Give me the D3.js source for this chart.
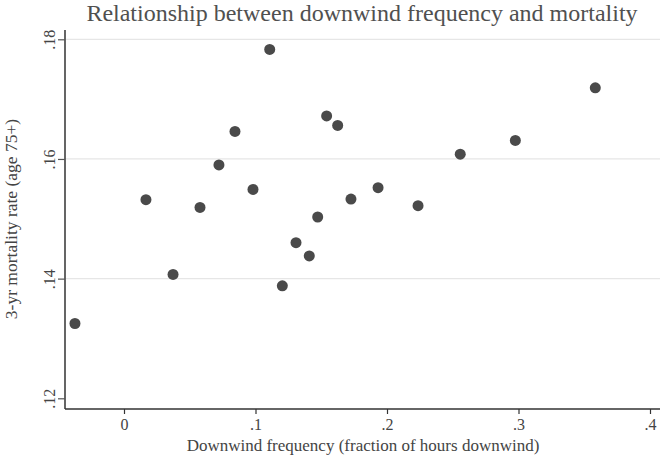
<!DOCTYPE html>
<html>
<head>
<meta charset="utf-8">
<script src="https://cdn.jsdelivr.net/npm/d3@7"></script>
<style>
  body { margin: 0; background: #fff; }
  text { font-family: "Liberation Serif", "DejaVu Serif", serif; fill: #444; }
</style>
</head>
<body>
<div id="chart"></div>
<script>
// downwind frequency (x) vs 3-yr mortality rate (y)
const downwind = [-0.0373, 0.0167, 0.0373, 0.0578, 0.0722, 0.0844, 0.0981, 0.1108, 0.1204, 0.1308,
                  0.1409, 0.1473, 0.1541, 0.1625, 0.1726, 0.1932, 0.2236, 0.2557, 0.2976, 0.3584];
const mortality = [0.1325, 0.1532, 0.1407, 0.1519, 0.1590, 0.1646, 0.1549, 0.1783, 0.1388, 0.1460,
                   0.1438, 0.1503, 0.1672, 0.1656, 0.1533, 0.1552, 0.1522, 0.1608, 0.1631, 0.1719];
const xTicks = [0, 0.1, 0.2, 0.3, 0.4];
const yTicks = [0.12, 0.14, 0.16, 0.18];

const width = 661, height = 459;
const margin = {top: 30, right: 1, bottom: 50, left: 65};

const svg = d3.select("#chart").append("svg")
    .attr("width", width)
    .attr("height", height);

const x = d3.scaleLinear()
    .domain([0, 0.4])
    .range([124, 650]);

const y = d3.scaleLinear()
    .domain([0.12, 0.18])
    .range([398.3, 39.3]);

const fmt = d => d === 0 ? "0" : d3.format(".2~f")(d).replace(/^0/, "");

// gridlines
svg.append("g")
    .selectAll("line")
    .data(yTicks.filter(d => d > 0.12))
    .join("line")
    .attr("x1", margin.left)
    .attr("x2", width - margin.right)
    .attr("y1", d => y(d))
    .attr("y2", d => y(d))
    .attr("stroke", "#e6e6e6")
    .attr("stroke-width", 1.2);

// y axis
const yAxis = svg.append("g")
    .attr("transform", "translate(" + margin.left + ",0)")
    .call(d3.axisLeft(y).tickValues(yTicks).tickSize(7).tickFormat(fmt));
yAxis.select(".domain")
    .attr("d", "M0," + margin.top + "V" + (height - margin.bottom))
    .attr("stroke", "#555").attr("stroke-width", 1.8);
yAxis.selectAll(".tick line").attr("stroke", "#555").attr("stroke-width", 1.2);
yAxis.selectAll(".tick text")
    .attr("x", 0).attr("dy", 0)
    .attr("transform", "translate(-10,0) rotate(-90)")
    .attr("text-anchor", "middle")
    .style("font-size", "16px")
    .style("font-family", "Liberation Serif, serif")
    .attr("fill", "#444");

// x axis
const xAxis = svg.append("g")
    .attr("transform", "translate(0," + (height - margin.bottom) + ")")
    .call(d3.axisBottom(x).tickValues(xTicks).tickSize(5).tickFormat(fmt));
xAxis.select(".domain")
    .attr("d", "M" + margin.left + ",0H" + (width - margin.right))
    .attr("stroke", "#333").attr("stroke-width", 1.5);
xAxis.selectAll(".tick line").attr("stroke", "#333").attr("stroke-width", 1.2);
xAxis.selectAll(".tick text")
    .attr("y", 0).attr("dy", 0)
    .attr("transform", "translate(0,21)")
    .style("font-size", "16px")
    .style("font-family", "Liberation Serif, serif")
    .attr("fill", "#444");

// points
svg.append("g")
    .selectAll("circle")
    .data(downwind.map((d, i) => [d, mortality[i]]))
    .join("circle")
    .attr("cx", d => x(d[0]))
    .attr("cy", d => y(d[1]))
    .attr("r", 5.5)
    .attr("fill", "#4a4a4a");

// titles
svg.append("text")
    .attr("x", 362).attr("y", 21)
    .attr("text-anchor", "middle")
    .style("font-size", "24px")
    .style("fill", "#505050")
    .text("Relationship between downwind frequency and mortality");

svg.append("text")
    .attr("x", 363).attr("y", 451)
    .attr("text-anchor", "middle")
    .style("font-size", "17px")
    .text("Downwind frequency (fraction of hours downwind)");

svg.append("text")
    .attr("transform", "translate(17,219) rotate(-90)")
    .attr("text-anchor", "middle")
    .style("font-size", "17.5px")
    .text("3-yr mortality rate (age 75+)");
</script>
</body>
</html>
